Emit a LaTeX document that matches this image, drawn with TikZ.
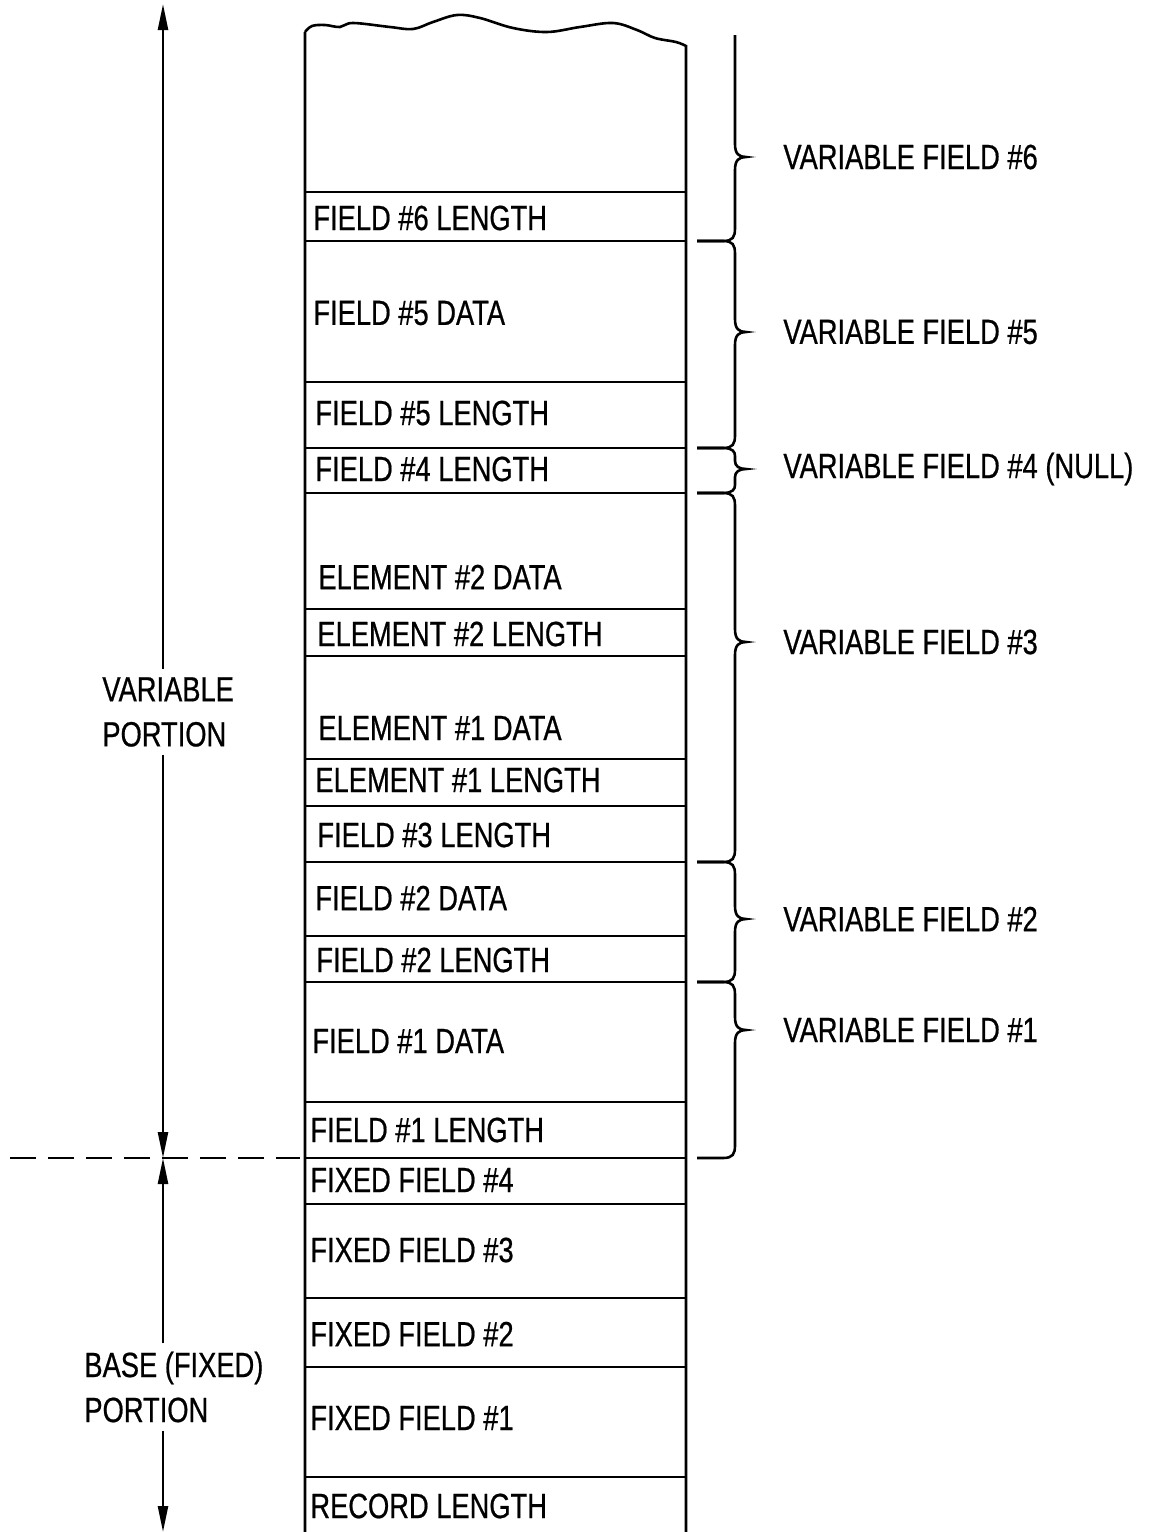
\documentclass[tikz,border=0pt]{standalone}
\usepackage{fontspec}
\setmainfont{Liberation Sans}[FakeStretch=0.78,FakeBold=0.6]
\usetikzlibrary{arrows.meta,positioning}

\newcommand{\recfont}{\fontsize{17.5}{22.5}\selectfont}
% brace on the right of the record: [bend] top, tip, bottom
\newcommand{\fieldbrace}[4][13]{%
  \draw[bracestyle] (697,#2) -- (723,#2) .. controls (733,#2) and (735,#2+4) .. (735,#2+#1)
    -- (735,#3-#1) .. controls (735,#3-3) and (739,#3) .. (746,#3)
    .. controls (739,#3) and (735,#3+3) .. (735,#3+#1) -- (735,#4-#1)
    .. controls (735,#4-4) and (733,#4) .. (723,#4) -- (697,#4);}

\begin{document}
\begin{tikzpicture}[x=0.5pt,y=-0.5pt,
    cellline/.style={line width=1.3pt},
    celltext/.style={anchor=west, inner sep=0pt, font=\recfont},
    bracestyle/.style={line width=1.3pt},
    bracelabel/.style={anchor=west, inner sep=0pt, font=\recfont},
    sidelabel/.style={anchor=west, align=left, inner sep=4pt, font=\recfont},
    portion/.style={line width=1.2pt, -{Triangle[length=13pt,width=5pt]}},
  ]
  \useasboundingbox (0,0) rectangle (1158,1532);

  %record column
  \draw[cellline] (305,1532) -- (305,32)
    plot[smooth, tension=0.6] coordinates {(305,32) (312,26) (325,25) (340,27)
      (353,23) (390,27) (413,29) (433,22) (457,15) (480,18) (513,28) (547,32)
      (580,27) (613,23) (637,30) (655,38) (676,42) (686,46)}
    -- (686,1532);
  \foreach \y in {192,241,382,448,493,609,656,759,806,862,936,982,1102,1158,1204,1298,1367,1477}
    \draw[cellline] (305,\y) -- (686,\y);

  %cells
  \node[celltext] (f6len) at (313,218) {FIELD \#6 LENGTH};
  \node[celltext] (f5data) at (313,313) {FIELD \#5 DATA};
  \node[celltext] (f5len) at (315,413) {FIELD \#5 LENGTH};
  \node[celltext] (f4len) at (315,469) {FIELD \#4 LENGTH};
  \node[celltext] (e2data) at (318,577) {ELEMENT \#2 DATA};
  \node[celltext] (e2len) at (317,634) {ELEMENT \#2 LENGTH};
  \node[celltext] (e1data) at (318,728) {ELEMENT \#1 DATA};
  \node[celltext] (e1len) at (315,780) {ELEMENT \#1 LENGTH};
  \node[celltext] (f3len) at (317,835) {FIELD \#3 LENGTH};
  \node[celltext] (f2data) at (315,898) {FIELD \#2 DATA};
  \node[celltext] (f2len) at (316,960) {FIELD \#2 LENGTH};
  \node[celltext] (f1data) at (312,1041) {FIELD \#1 DATA};
  \node[celltext] (f1len) at (310,1130) {FIELD \#1 LENGTH};
  \node[celltext] (fix4) at (310,1180) {FIXED FIELD \#4};
  \node[celltext] (fix3) at (310,1250) {FIXED FIELD \#3};
  \node[celltext] (fix2) at (310,1334) {FIXED FIELD \#2};
  \node[celltext] (fix1) at (310,1418) {FIXED FIELD \#1};
  \node[celltext] (reclen) at (310,1506) {RECORD LENGTH};

  %braces
  \draw[bracestyle] (735,35) -- (735,144) .. controls (735,154) and (739,157) .. (746,157)
    .. controls (739,157) and (735,160) .. (735,170) -- (735,228)
    .. controls (735,237) and (733,241) .. (723,241) -- (697,241);
  \fieldbrace{241}{332}{448}
  \fieldbrace[8]{448}{469}{493}
  \fieldbrace{493}{642}{862}
  \fieldbrace{862}{919}{982}
  \fieldbrace{982}{1030}{1158}
  \node[bracelabel] (vf6) at (783,157) {VARIABLE FIELD \#6};
  \node[bracelabel] (vf5) at (783,332) {VARIABLE FIELD \#5};
  \node[bracelabel] (vf4) at (783,469) {VARIABLE FIELD \#4 (NULL)};
  \node[bracelabel] (vf3) at (783,642) {VARIABLE FIELD \#3};
  \node[bracelabel] (vf2) at (783,919) {VARIABLE FIELD \#2};
  \node[bracelabel] (vf1) at (783,1030) {VARIABLE FIELD \#1};

  %portions
  \coordinate (vtop) at (163,4);
  \coordinate (split) at (163,1158);
  \coordinate (bbot) at (163,1532);
  \draw[dashed, dash pattern=on 13pt off 6pt, line width=1.1pt] (10,1158) -- (300,1158);
  \node[sidelabel] (varpart) at (94,712) {VARIABLE\\PORTION};
  \node[sidelabel] (basepart) at (76,1387) {BASE (FIXED)\\PORTION};
  \draw[portion] (varpart.north -| vtop) -- (vtop);
  \draw[portion] (varpart.south -| vtop) -- (split);
  \draw[portion] (basepart.north -| vtop) -- (split);
  \draw[portion] (basepart.south -| vtop) -- (bbot);
\end{tikzpicture}
\end{document}
